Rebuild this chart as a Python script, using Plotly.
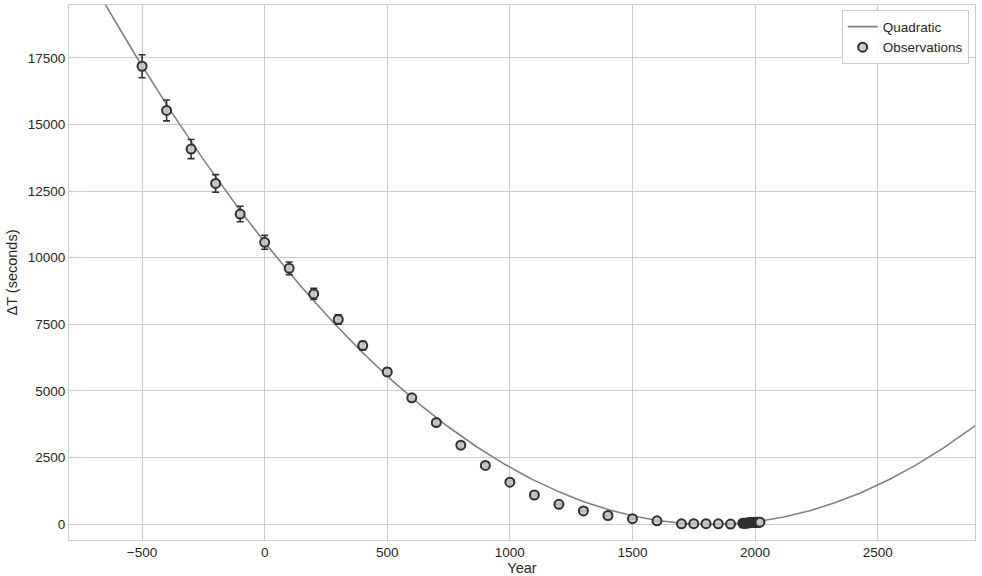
"""Delta T observations vs quadratic model"""

import numpy as np
import plotly.graph_objects as go

# observed Delta T (seconds) with uncertainty
obs_year = [-500, -400, -300, -200, -100, 0, 100, 200, 300, 400, 500, 600, 700,
            800, 900, 1000, 1100, 1200, 1300, 1400, 1500, 1600, 1700, 1750,
            1800, 1850, 1900, 1950, 1955, 1960, 1965, 1970, 1975, 1980, 1985,
            1990, 1995, 2000, 2005, 2010, 2015, 2020]
obs_dt = [17190, 15530, 14080, 12790, 11640, 10580, 9600, 8640, 7680, 6700,
          5710, 4740, 3810, 2960, 2200, 1570, 1090, 740, 490, 320, 200, 120,
          9, 13, 14, 7, -3, 29, 31.1, 33.2, 35.7, 40.2, 45.5, 50.5, 54.3,
          56.9, 60.8, 63.8, 64.7, 66.1, 67.6, 69.4]
obs_err = [430, 390, 360, 330, 290, 260, 240, 210, 180, 160, 140, 120, 100,
           80, 70, 55, 40, 30, 20, 20, 20, 20, 5, 1, 1, 0.5, 0.5, 0.1, 0.1,
           0.1, 0.1, 0.1, 0.1, 0.1, 0.1, 0.1, 0.1, 0.1, 0.1, 0.1, 0.1, 0.1]

# quadratic model: dt = c0 + c2 * ((year - epoch) / 100) ** 2
quad_epoch = 1820
quad_c0 = -20
quad_c2 = 32
curve_span = [-800, 2900]

x_ticks = [-500, 0, 500, 1000, 1500, 2000, 2500]
x_labels = ["\u2212500", "0", "500", "1000", "1500", "2000", "2500"]
y_ticks = [0, 2500, 5000, 7500, 10000, 12500, 15000, 17500]
y_labels = [str(v) for v in y_ticks]

FONT = "Liberation Sans, Arial, sans-serif"
GRID = "#cccccc"

yr = np.linspace(curve_span[0], curve_span[1], 400)
u = (yr - quad_epoch) / 100.0
quad = quad_c0 + quad_c2 * u ** 2

fig = go.Figure()
fig.add_trace(go.Scatter(
    x=yr, y=quad, mode="lines", name="Quadratic",
    line=dict(color="#808080", width=1.6),
))
fig.add_trace(go.Scatter(
    x=obs_year, y=obs_dt, mode="markers", name="Observations",
    marker=dict(size=9, color="rgba(200,200,200,0.9)",
                line=dict(color="#303030", width=2)),
    error_y=dict(type="data", array=obs_err, visible=True,
                 color="#303030", thickness=1.6, width=3.5),
))

axis_common = dict(
    showgrid=True, gridcolor=GRID, gridwidth=1,
    showline=True, linecolor=GRID, linewidth=1, mirror=True,
    zeroline=False, ticks="", automargin=False,
    tickfont=dict(size=13.5, color="#262626"),
)

fig.update_layout(
    width=982, height=576,
    margin=dict(l=69, r=7, t=5, b=36, autoexpand=False),
    paper_bgcolor="white", plot_bgcolor="white",
    font=dict(family=FONT, color="#262626"),
    xaxis=dict(range=[-798, 2897], tickvals=x_ticks, ticktext=x_labels,
               title=dict(text="Year", font=dict(size=14.5), standoff=4),
               **axis_common),
    yaxis=dict(range=[-600, 19490], tickvals=y_ticks, ticktext=y_labels,
               title=dict(text="ΔT (seconds)", font=dict(size=14.5), standoff=6),
               **axis_common),
    legend=dict(x=0.993, y=0.99, xanchor="right", yanchor="top",
                bgcolor="rgba(255,255,255,0.85)", bordercolor=GRID, borderwidth=1,
                font=dict(size=13.5), tracegroupgap=0, itemwidth=30),
    showlegend=True,
)

# drop the browser's default page margin so the figure sits at the origin
fig.write_html("out.html", config={"displayModeBar": False},
               post_script="document.body.style.margin='0px';")
